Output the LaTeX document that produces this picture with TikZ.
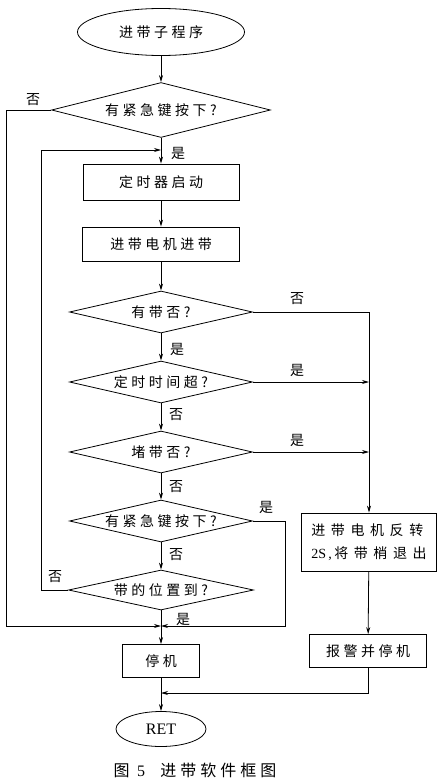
\documentclass[tikz,border=0pt]{standalone}
\usepackage{fontspec}
\setmainfont{Liberation Serif}
\newfontfamily\cjk[LetterSpace=25]{Noto Sans CJK SC}
\newfontfamily\cjkwide[LetterSpace=40]{Noto Sans CJK SC}
\usetikzlibrary{shapes.geometric, arrows.meta, positioning, calc}

\begin{document}
\begin{tikzpicture}[
    x=1bp, y=-1bp,
    line width=0.8bp,
    every node/.style={font=\cjk\fontsize{14bp}{20bp}\selectfont},
    terminal/.style={ellipse, draw, inner sep=0pt},
    process/.style={rectangle, draw, inner sep=0pt},
    decision/.style={diamond, draw, inner sep=0pt, aspect=4.4, minimum width=183bp, minimum height=42bp},
    flow/.style={-{Stealth[length=7bp, width=4bp]}},
    tag/.style={inner sep=1pt}
]
    \useasboundingbox (0,0) rectangle (443,784);

    % Main column
    \node[terminal, minimum width=167bp, minimum height=47bp] (start) at (161, 32) {进带子程序};
    \node[decision, minimum width=219bp, minimum height=55bp] (key1) at (161, 110) {有紧急键按下?};
    \node[process, minimum width=156bp, minimum height=36bp] (timer) at (161, 182) {定时器启动};
    \node[process, minimum width=157bp, minimum height=34bp] (feed) at (161, 244) {进带电机进带};
    \node[decision] (tape) at (161, 312) {有带否?};
    \node[decision] (tout) at (161, 382) {定时时间超?};
    \node[decision] (jam) at (161, 452) {堵带否?};
    \node[decision] (key2) at (161, 521) {有紧急键按下?};
    \node[decision, minimum width=185bp, minimum height=40bp] (pos) at (161, 590) {带的位置到?};
    \node[process, minimum width=77bp, minimum height=33bp] (stop) at (161, 661) {停机};
    \node[terminal, minimum width=90bp, minimum height=35bp, font=\fontsize{16bp}{18bp}\selectfont] (ret) at (161, 729) {RET};

    % Right column
    \node[process, minimum width=135bp, minimum height=58bp, align=left,
          font=\cjkwide\fontsize{14bp}{23bp}\selectfont] (rev) at (369, 542) {进带电机反转\\{\rmfamily 2S\,,\,}将带梢退出};
    \node[process, minimum width=117bp, minimum height=33bp] (alarm) at (368, 651) {报警并停机};

    % Joints
    \coordinate (back) at (161, 150);
    \coordinate (jn) at (161, 626);
    \coordinate (jr) at (161, 693);

    % Straight flow
    \draw[flow] (start) -- (key1);
    \draw[flow] (key1) -- (timer);
    \draw[flow] (timer) -- (feed);
    \draw[flow] (feed) -- (tape);
    \draw[flow] (tape) -- (tout);
    \draw[flow] (tout) -- (jam);
    \draw[flow] (jam) -- (key2);
    \draw[flow] (key2) -- (pos);
    \draw[flow] (pos) -- (stop);
    \draw[flow] (stop) -- (ret);
    \draw[flow] (rev) -- (alarm);

    % Branches
    \draw[flow] (key1.west) -- ++(-45,0) |- (jn);
    \draw[flow] (pos.west) -- ++(-27,0) |- (back);
    \draw[flow] (tape.east) -| (rev.north);
    \draw[flow] (tout.east) -- (tout.east -| rev.north);
    \draw[flow] (jam.east) -- (jam.east -| rev.north);
    \draw[flow] (key2.east) -- ++(32,0) |- (jn);
    \draw[flow] (alarm.south) |- (jr);

    % Labels
    \node[tag] (n1) at (33, 100) {否};
    \node[tag] (y1) at (178, 153) {是};
    \node[tag] (n2) at (297, 299) {否};
    \node[tag] (y2) at (177, 349) {是};
    \node[tag] (y3) at (297, 370) {是};
    \node[tag] (n3) at (176, 415) {否};
    \node[tag] (y4) at (297, 440) {是};
    \node[tag] (n4) at (176, 487) {否};
    \node[tag] (y5) at (266, 507) {是};
    \node[tag] (n5) at (176, 555) {否};
    \node[tag] (n6) at (55, 577) {否};
    \node[tag] (y6) at (183, 619) {是};

    % Caption
    \node[font=\cjk\fontsize{16bp}{20bp}\selectfont] (cap) at (195, 770) {图\ {\rmfamily 5}\ \ 进带软件框图};
\end{tikzpicture}
\end{document}
